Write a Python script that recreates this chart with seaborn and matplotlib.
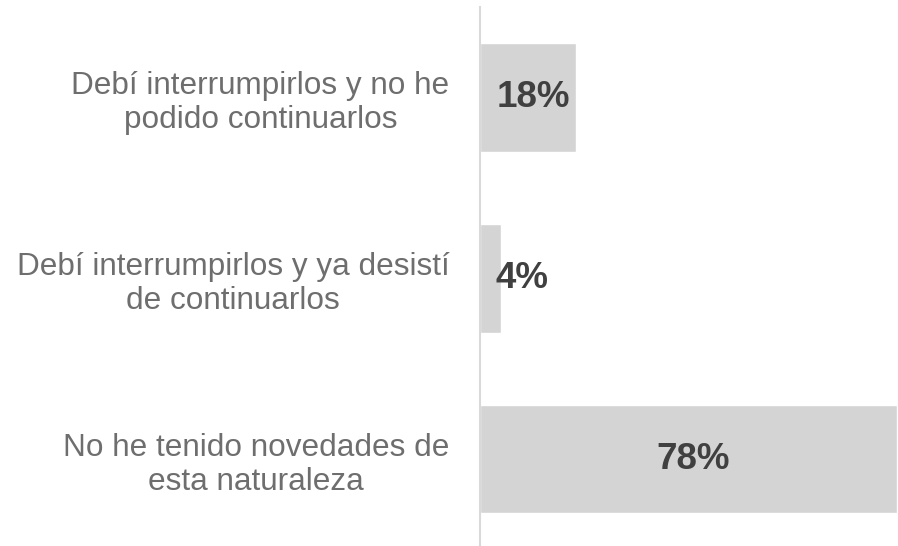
import matplotlib
matplotlib.use("Agg")
import matplotlib.pyplot as plt
import seaborn as sns
import pandas as pd

# Data
categorias = [
    "Debí interrumpirlos y no he\npodido continuarlos",
    "Debí interrumpirlos y ya desistí\nde continuarlos",
    "No he tenido novedades de\nesta naturaleza",
]
porcentajes = [18, 4, 78]
etiquetas = ["18%", "4%", "78%"]

df = pd.DataFrame({"categoria": categorias, "pct": porcentajes})

sns.set_style("white")
plt.rcParams["font.family"] = ["Liberation Sans", "DejaVu Sans"]

fig = plt.figure(figsize=(8.98, 5.46), dpi=100)
ax = fig.add_axes([480 / 898, 0, 418 / 898, 539 / 546])

sns.barplot(data=df, x="pct", y="categoria", orient="h", color="#d4d4d4",
            width=0.6, saturation=1, ax=ax)

ax.set_xlim(0, 78.2)
ax.set_ylim(2.48, -0.5)

# value labels, bold, roughly centred in the bar
for i, (v, t) in enumerate(zip(porcentajes, etiquetas)):
    ax.text(max(v / 2, 7.0) + 0.9, i, t, ha="center", va="center",
            fontsize=26.5, fontweight="bold", color="#404040")

ax.set_xlabel("")
ax.set_ylabel("")
ax.set_xticks([])
ax.tick_params(axis="y", length=0, pad=22, labelsize=22.7, labelcolor="#6e6e6e")
for lbl in ax.get_yticklabels():
    lbl.set_multialignment("center")
    lbl.set_linespacing(1.17)

for s in ["top", "right", "bottom"]:
    ax.spines[s].set_visible(False)
ax.spines["left"].set_color("#d9d9d9")
ax.spines["left"].set_linewidth(1.5)

fig.savefig("out.png", dpi=100)
